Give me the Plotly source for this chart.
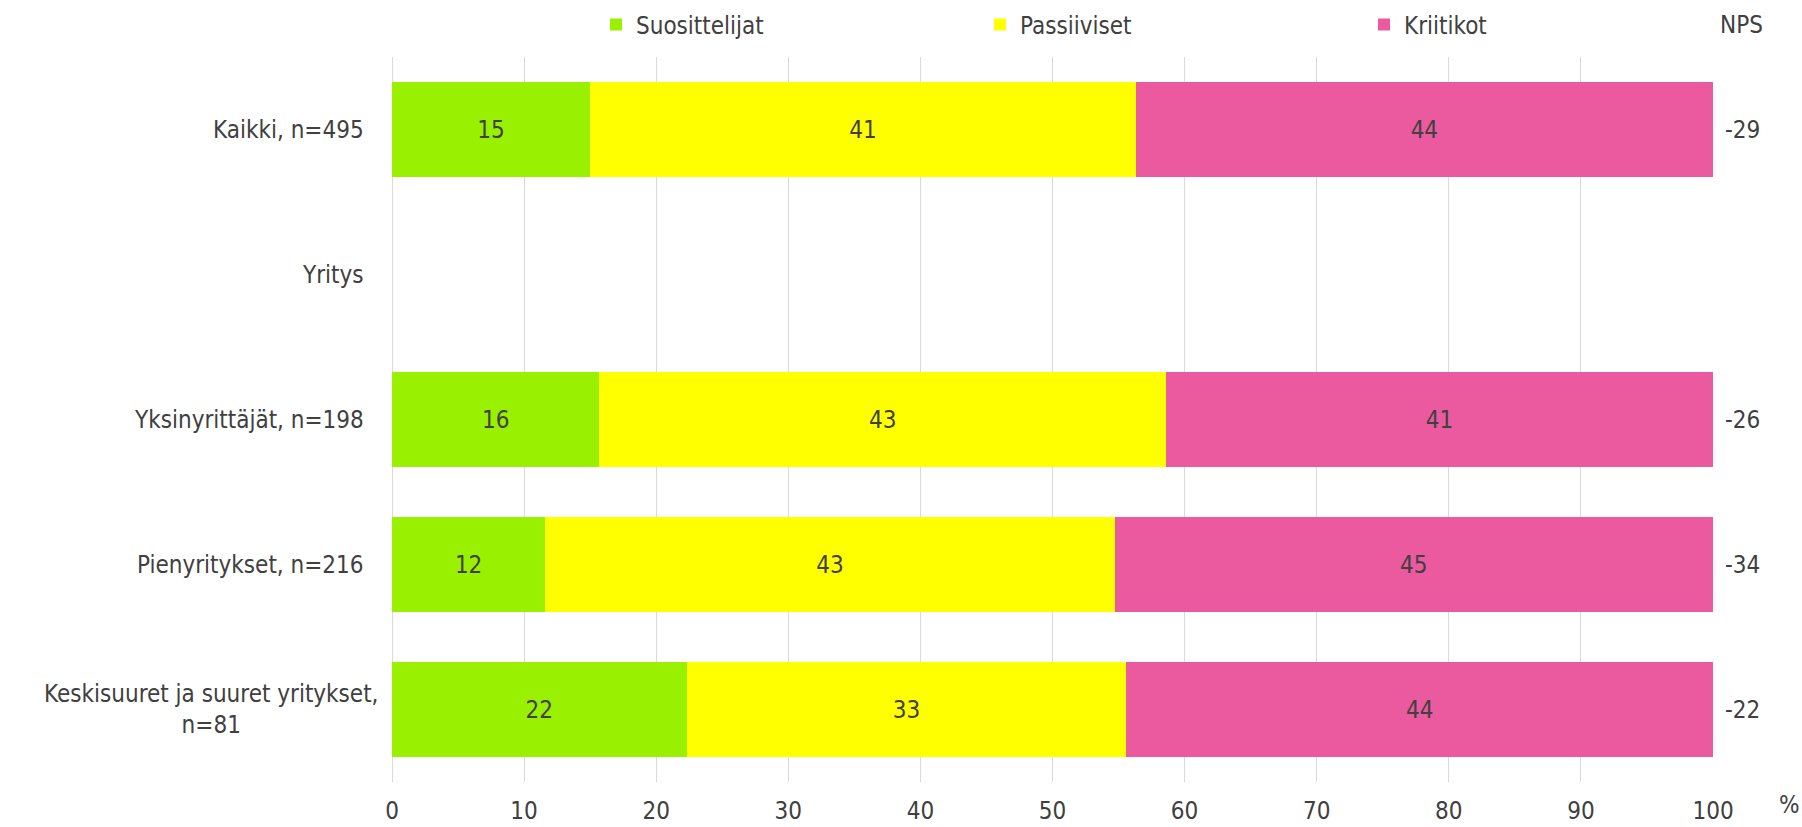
import plotly.graph_objects as go

categories = ["Kaikki, n=495", "Yritys", "Yksinyrittäjät, n=198", "Pienyritykset, n=216",
              "Keskisuuret ja suuret yritykset,<br>n=81"]
suosittelijat = [15.0, None, 15.7, 11.6, 22.3]
passiiviset = [41.3, None, 42.9, 43.1, 33.3]
kriitikot = [43.7, None, 41.4, 45.3, 44.4]
nps = [-29, None, -26, -34, -22]
x_ticks = [0, 10, 20, 30, 40, 50, 60, 70, 80, 90, 100]

FONT = "Liberation Sans Narrow, DejaVu Sans Condensed, Arial Narrow, sans-serif"
TXT = "#404040"
series = [
    ("Suosittelijat", suosittelijat, "#99F000"),
    ("Passiiviset", passiiviset, "#FFFF00"),
    ("Kriitikot", kriitikot, "#EB5A9E"),
]

fig = go.Figure()
for name, vals, col in series:
    fig.add_trace(go.Bar(
        y=categories, x=vals, name=name, orientation="h",
        marker=dict(color=col, line=dict(width=0)),
        text=[None if v is None else f"{round(v):d}" for v in vals],
        textposition="inside", insidetextanchor="middle",
        textfont=dict(family=FONT, size=24, color=TXT),
        hoverinfo="x+y+name",
    ))

W, H = 1802, 827
PLOT_TOP, PLOT_BOTTOM = 57, 782
legend_py = 25
legend_paper_y = (PLOT_BOTTOM - legend_py) / (PLOT_BOTTOM - PLOT_TOP)

annotations = []
for cat, val in zip(categories, nps):
    two = "<br>" in cat
    annotations.append(dict(
        xref="paper", yref="y", x=0, y=cat, xanchor="right", yanchor="middle",
        xshift=-12 if two else -26, text=cat, showarrow=False, align="center",
        font=dict(family=FONT, size=24, color=TXT)))
    if val is not None:
        annotations.append(dict(
            xref="paper", yref="y", x=1, y=cat, xanchor="left", yanchor="middle",
            xshift=10, text=str(val), showarrow=False,
            font=dict(family=FONT, size=24, color=TXT)))
annotations.append(dict(xref="paper", yref="paper", x=1, y=legend_paper_y, xanchor="left",
                        yanchor="middle", xshift=5, text="NPS", showarrow=False,
                        font=dict(family=FONT, size=24, color=TXT)))
annotations.append(dict(xref="paper", yref="paper", x=1, y=0, xanchor="left", yanchor="top",
                        xshift=64, yshift=-7, text="%", showarrow=False,
                        font=dict(family=FONT, size=24, color=TXT)))

fig.update_layout(
    barmode="stack", bargap=0.34,
    width=W, height=H,
    margin=dict(l=392, r=89, t=PLOT_TOP, b=H - PLOT_BOTTOM, autoexpand=False),
    paper_bgcolor="white", plot_bgcolor="white",
    font=dict(family=FONT, size=24, color=TXT),
    showlegend=True,
    legend=dict(orientation="h", xref="container", yref="container",
                x=596 / W, y=1 - legend_py / H, xanchor="left", yanchor="middle",
                entrywidth=339, entrywidthmode="pixels", itemwidth=30,
                font=dict(family=FONT, size=24, color=TXT), bgcolor="rgba(0,0,0,0)",
                traceorder="normal"),
    annotations=annotations,
    uniformtext=dict(mode="show", minsize=24),
)
fig.update_xaxes(range=[0, 100], tickvals=x_ticks, ticktext=[str(t) for t in x_ticks],
                 showgrid=True, gridcolor="#D9D9D9", gridwidth=1,
                 zeroline=True, zerolinecolor="#D9D9D9", zerolinewidth=1,
                 showline=False, ticks="", ticklabelstandoff=12, automargin=False,
                 tickfont=dict(family=FONT, size=24, color=TXT))
fig.update_yaxes(categoryorder="array", categoryarray=categories, autorange="reversed",
                 automargin=False,
                 showticklabels=False, showgrid=False, zeroline=False, showline=False, ticks="")

fig.write_html("out.html", config={"displayModeBar": False},
               post_script="document.body.style.margin='0';document.body.style.overflow='hidden';")
